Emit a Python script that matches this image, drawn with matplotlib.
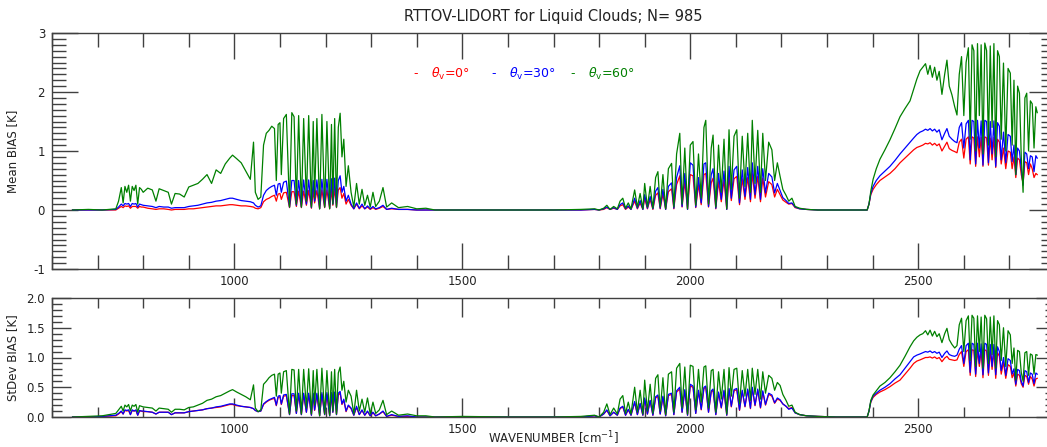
import numpy as np
import matplotlib
matplotlib.use("Agg")
import matplotlib.pyplot as plt
from matplotlib.ticker import MultipleLocator, FormatStrFormatter

# spectral grid [cm-1], one line per spectral band
wavenumber = [
    645, 680, 710, 740,
    746, 752, 756, 760, 764, 768, 772, 776, 780, 784, 788, 792, 796, 800,
    810, 820, 828, 835, 845, 855, 862, 870, 880, 890, 900,
    910, 920, 930, 940, 950, 960, 970, 980, 990, 996, 1005, 1015, 1025, 1035, 1042, 1046, 1052, 1058,
    1064, 1070, 1076, 1082, 1088, 1092, 1096, 1100, 1103, 1108, 1114, 1121, 1126, 1131, 1136, 1141, 1147, 1152, 1158, 1163,
    1169, 1173, 1176, 1181, 1187, 1192, 1198, 1203, 1209, 1213, 1216, 1220, 1224, 1228, 1232, 1236, 1240, 1245, 1250,
    1256, 1262, 1268, 1274, 1280, 1286, 1292, 1298, 1304, 1310, 1318, 1326, 1334, 1345, 1360, 1380, 1400, 1420, 1440,
    1500, 1600, 1700, 1760, 1790,
    1800, 1810, 1817, 1824, 1832, 1840, 1846, 1852, 1858, 1864, 1870, 1878, 1884, 1890, 1896, 1900, 1906, 1912, 1918, 1924,
    1929, 1934, 1940, 1946, 1952, 1959, 1964, 1970, 1977, 1982, 1988, 1994, 2000, 2006, 2012, 2018, 2024, 2030, 2034, 2040,
    2046, 2050, 2056, 2062, 2068, 2074, 2080, 2085, 2090, 2096, 2102, 2108, 2114, 2120, 2126, 2132, 2136, 2142, 2148, 2154,
    2159, 2165, 2172, 2179, 2185, 2191, 2197, 2203, 2210, 2216, 2223, 2230, 2240,
    2255, 2280, 2320, 2360, 2388,
    2392, 2396, 2401, 2408, 2416, 2427, 2438, 2449, 2460, 2471, 2482, 2490, 2497, 2504,
    2510, 2516, 2521, 2526, 2531, 2536, 2541, 2546, 2552, 2558, 2563, 2568, 2574, 2580, 2585, 2590, 2595, 2600, 2605, 2610,
    2614, 2618, 2622, 2626, 2630, 2634, 2638, 2642, 2646, 2650, 2654, 2658, 2662, 2666, 2670, 2674, 2678, 2682, 2687, 2692,
    2697, 2702, 2706, 2710, 2714, 2718, 2722, 2726, 2730, 2734, 2738, 2742, 2746, 2750, 2754, 2758, 2761,
]

# mean bias [K], theta_v = 0, 30, 60 deg
mean_0 = [
    0.00, 0.00, 0.00, 0.00,
    0.03, 0.06, 0.04, 0.07, 0.06, 0.07, 0.03, 0.06, 0.06, 0.06, 0.03, 0.06, 0.05, 0.05,
    0.03, 0.02, 0.01, 0.02, 0.02, 0.01, 0.00, 0.01, 0.01, 0.01, 0.02,
    0.02, 0.03, 0.04, 0.05, 0.06, 0.07, 0.07, 0.08, 0.09, 0.09, 0.08, 0.07, 0.07, 0.06, 0.05, 0.03, 0.02, 0.04,
    0.14, 0.18, 0.20, 0.23, 0.25, 0.15, 0.27, 0.28, 0.18, 0.29, 0.30, 0.04, 0.31, 0.31, 0.06, 0.32, 0.04, 0.32, 0.08, 0.33,
    0.03, 0.33, 0.12, 0.33, 0.02, 0.34, 0.04, 0.34, 0.02, 0.35, 0.08, 0.36, 0.04, 0.34, 0.38, 0.20, 0.28, 0.10, 0.18,
    0.08, 0.02, 0.10, 0.02, 0.07, 0.02, 0.05, 0.01, 0.04, 0.01, 0.03, 0.06, 0.01, 0.02, 0.01, 0.01, 0.00, 0.00, 0.00,
    0.00, 0.00, 0.00, 0.00, 0.01,
    0.00, 0.01, 0.04, 0.01, 0.03, 0.01, 0.07, 0.09, 0.01, 0.05, 0.01, 0.15, 0.02, 0.12, 0.01, 0.20, 0.02, 0.18, 0.01, 0.25,
    0.29, 0.02, 0.27, 0.01, 0.31, 0.36, 0.02, 0.43, 0.58, 0.05, 0.48, 0.01, 0.60, 0.58, 0.04, 0.43, 0.09, 0.60, 0.62, 0.05,
    0.46, 0.54, 0.02, 0.48, 0.14, 0.51, 0.01, 0.57, 0.16, 0.53, 0.57, 0.09, 0.53, 0.18, 0.55, 0.14, 0.62, 0.20, 0.57, 0.14,
    0.54, 0.22, 0.48, 0.43, 0.22, 0.35, 0.26, 0.17, 0.13, 0.10, 0.11, 0.04, 0.02,
    0.01, 0.00, 0.00, 0.00, 0.00,
    0.10, 0.26, 0.35, 0.43, 0.50, 0.56, 0.62, 0.70, 0.80, 0.88, 0.96, 1.02, 1.06, 1.08,
    1.10, 1.13, 1.12, 1.14, 1.10, 1.13, 1.09, 1.12, 1.00, 1.08, 1.15, 1.04, 1.01, 0.99, 0.97, 1.15, 1.20, 0.88, 1.20, 1.24,
    0.78, 1.24, 1.22, 0.74, 1.24, 0.90, 1.23, 0.74, 1.24, 1.22, 0.76, 1.22, 0.85, 1.23, 0.72, 1.20, 1.15, 0.78, 1.05, 0.70,
    1.00, 0.98, 0.70, 0.90, 0.55, 0.88, 0.85, 0.60, 0.45, 0.82, 0.80, 0.60, 0.78, 0.70, 0.55, 0.62, 0.60,
]
mean_30 = [
    0.00, 0.00, 0.00, 0.01,
    0.05, 0.10, 0.07, 0.11, 0.10, 0.11, 0.06, 0.11, 0.10, 0.11, 0.05, 0.10, 0.09, 0.08,
    0.07, 0.06, 0.04, 0.06, 0.05, 0.05, 0.03, 0.04, 0.04, 0.04, 0.06,
    0.07, 0.08, 0.10, 0.12, 0.13, 0.15, 0.16, 0.18, 0.20, 0.20, 0.18, 0.16, 0.15, 0.14, 0.12, 0.08, 0.05, 0.07,
    0.25, 0.33, 0.37, 0.40, 0.42, 0.25, 0.44, 0.45, 0.30, 0.47, 0.49, 0.05, 0.50, 0.50, 0.08, 0.50, 0.05, 0.51, 0.10, 0.51,
    0.04, 0.50, 0.15, 0.51, 0.02, 0.52, 0.05, 0.52, 0.03, 0.53, 0.10, 0.54, 0.05, 0.50, 0.58, 0.30, 0.40, 0.15, 0.25,
    0.10, 0.02, 0.12, 0.03, 0.10, 0.02, 0.07, 0.02, 0.06, 0.02, 0.04, 0.08, 0.01, 0.03, 0.01, 0.01, 0.00, 0.00, 0.00,
    0.00, 0.00, 0.00, 0.00, 0.01,
    0.00, 0.02, 0.05, 0.01, 0.04, 0.01, 0.09, 0.12, 0.02, 0.07, 0.01, 0.20, 0.03, 0.16, 0.01, 0.26, 0.03, 0.23, 0.02, 0.32,
    0.38, 0.03, 0.35, 0.01, 0.40, 0.46, 0.03, 0.55, 0.75, 0.06, 0.62, 0.01, 0.80, 0.76, 0.05, 0.55, 0.12, 0.78, 0.80, 0.06,
    0.60, 0.70, 0.03, 0.62, 0.18, 0.66, 0.01, 0.74, 0.20, 0.68, 0.74, 0.12, 0.68, 0.23, 0.72, 0.18, 0.80, 0.26, 0.74, 0.18,
    0.70, 0.29, 0.62, 0.56, 0.29, 0.45, 0.33, 0.21, 0.16, 0.11, 0.12, 0.05, 0.02,
    0.01, 0.00, 0.00, 0.00, 0.00,
    0.10, 0.28, 0.40, 0.50, 0.58, 0.66, 0.74, 0.84, 0.95, 1.05, 1.15, 1.22, 1.28, 1.32,
    1.34, 1.37, 1.35, 1.38, 1.34, 1.37, 1.32, 1.36, 1.19, 1.30, 1.38, 1.25, 1.20, 1.16, 1.14, 1.40, 1.48, 1.05, 1.46, 1.52,
    0.85, 1.52, 1.50, 0.78, 1.52, 1.05, 1.51, 0.76, 1.52, 1.50, 0.80, 1.50, 0.95, 1.51, 0.74, 1.48, 1.42, 0.85, 1.32, 0.80,
    1.28, 1.25, 0.82, 1.10, 0.60, 1.05, 1.00, 0.70, 0.42, 0.98, 0.95, 0.70, 0.92, 0.90, 0.65, 0.92, 0.88,
]
mean_60 = [
    0.00, 0.01, 0.00, 0.02,
    0.15, 0.38, 0.12, 0.40, 0.30, 0.42, 0.15, 0.40, 0.33, 0.42, 0.10, 0.38, 0.35, 0.30,
    0.37, 0.34, 0.15, 0.36, 0.33, 0.30, 0.10, 0.28, 0.27, 0.22, 0.39,
    0.42, 0.45, 0.52, 0.60, 0.45, 0.68, 0.62, 0.78, 0.88, 0.93, 0.87, 0.80, 0.66, 0.52, 1.15, 0.30, 0.18, 0.22,
    1.10, 1.30, 1.35, 1.42, 1.38, 0.50, 1.45, 1.48, 0.60, 1.55, 1.62, 0.05, 1.65, 1.58, 0.10, 1.60, 0.05, 1.55, 0.15, 1.60,
    0.05, 1.50, 0.20, 1.55, 0.02, 1.62, 0.05, 1.50, 0.02, 1.45, 0.10, 1.55, 0.05, 1.40, 1.64, 0.90, 1.20, 0.40, 0.75,
    0.30, 0.05, 0.45, 0.10, 0.35, 0.08, 0.25, 0.05, 0.30, 0.06, 0.15, 0.38, 0.05, 0.12, 0.04, 0.06, 0.02, 0.03, 0.00,
    0.00, 0.00, 0.00, 0.01, 0.02,
    0.00, 0.03, 0.08, 0.01, 0.06, 0.02, 0.15, 0.20, 0.03, 0.12, 0.02, 0.34, 0.05, 0.28, 0.02, 0.45, 0.05, 0.40, 0.03, 0.55,
    0.65, 0.05, 0.60, 0.02, 0.70, 0.79, 0.05, 0.95, 1.30, 0.10, 1.05, 0.02, 1.10, 1.16, 0.08, 0.95, 0.20, 1.40, 1.52, 0.10,
    1.05, 1.27, 0.05, 1.10, 0.30, 1.20, 0.02, 1.36, 0.35, 1.25, 1.36, 0.20, 1.25, 0.40, 1.30, 0.30, 1.52, 0.45, 1.35, 0.30,
    1.30, 0.50, 1.15, 1.02, 0.50, 0.80, 0.57, 0.35, 0.25, 0.15, 0.20, 0.06, 0.03,
    0.01, 0.00, 0.00, 0.00, 0.00,
    0.10, 0.32, 0.52, 0.70, 0.86, 1.02, 1.19, 1.38, 1.58, 1.72, 1.85, 2.05, 2.22, 2.36,
    2.42, 2.48, 2.30, 2.45, 2.25, 2.42, 2.20, 2.35, 1.96, 2.30, 2.54, 2.10, 1.95, 1.75, 1.61, 2.30, 2.60, 1.60, 2.50, 2.75,
    1.20, 2.80, 2.70, 1.00, 2.82, 1.60, 2.80, 0.95, 2.83, 2.70, 1.10, 2.78, 1.40, 2.82, 0.90, 2.70, 2.60, 1.20, 2.49, 1.00,
    2.40, 2.32, 1.10, 2.20, 0.60, 2.10, 1.98, 0.90, 0.30, 1.90, 1.98, 1.00, 1.85, 1.80, 1.05, 1.75, 1.65,
]

# standard deviation of the bias [K]
sdev_0 = [
    0.00, 0.00, 0.01, 0.02,
    0.05, 0.09, 0.05, 0.11, 0.10, 0.11, 0.04, 0.11, 0.10, 0.11, 0.03, 0.10, 0.10, 0.09,
    0.09, 0.08, 0.05, 0.08, 0.08, 0.08, 0.04, 0.07, 0.07, 0.07, 0.09,
    0.10, 0.11, 0.12, 0.14, 0.15, 0.16, 0.17, 0.19, 0.21, 0.21, 0.19, 0.18, 0.17, 0.16, 0.14, 0.11, 0.09, 0.10,
    0.21, 0.25, 0.28, 0.30, 0.31, 0.19, 0.33, 0.34, 0.21, 0.35, 0.36, 0.04, 0.36, 0.36, 0.06, 0.37, 0.04, 0.37, 0.08, 0.37,
    0.03, 0.37, 0.11, 0.37, 0.02, 0.38, 0.04, 0.38, 0.02, 0.38, 0.08, 0.39, 0.04, 0.37, 0.40, 0.21, 0.28, 0.09, 0.19,
    0.14, 0.03, 0.16, 0.04, 0.11, 0.03, 0.09, 0.02, 0.07, 0.02, 0.05, 0.09, 0.01, 0.03, 0.01, 0.01, 0.00, 0.00, 0.00,
    0.00, 0.00, 0.00, 0.00, 0.02,
    0.00, 0.05, 0.11, 0.02, 0.08, 0.03, 0.14, 0.17, 0.03, 0.12, 0.03, 0.24, 0.04, 0.22, 0.03, 0.30, 0.05, 0.27, 0.03, 0.32,
    0.35, 0.05, 0.33, 0.02, 0.36, 0.38, 0.04, 0.42, 0.47, 0.08, 0.44, 0.03, 0.52, 0.50, 0.06, 0.43, 0.12, 0.48, 0.50, 0.08,
    0.42, 0.45, 0.04, 0.40, 0.15, 0.43, 0.03, 0.46, 0.17, 0.44, 0.46, 0.11, 0.43, 0.17, 0.45, 0.14, 0.48, 0.19, 0.45, 0.15,
    0.42, 0.20, 0.38, 0.35, 0.23, 0.30, 0.28, 0.22, 0.18, 0.14, 0.16, 0.07, 0.04,
    0.02, 0.01, 0.00, 0.00, 0.00,
    0.10, 0.25, 0.33, 0.38, 0.42, 0.46, 0.51, 0.57, 0.62, 0.72, 0.82, 0.90, 0.94, 0.96,
    0.98, 1.00, 1.00, 1.01, 0.99, 1.01, 0.98, 1.00, 0.93, 0.99, 1.02, 0.97, 0.96, 0.95, 0.96, 1.05, 1.10, 0.85, 1.10, 1.13,
    0.70, 1.13, 1.12, 0.68, 1.13, 0.85, 1.12, 0.66, 1.13, 1.11, 0.70, 1.11, 0.80, 1.11, 0.65, 1.08, 1.02, 0.72, 0.92, 0.65,
    0.88, 0.85, 0.66, 0.74, 0.52, 0.72, 0.70, 0.56, 0.50, 0.70, 0.68, 0.55, 0.68, 0.64, 0.52, 0.64, 0.65,
]
sdev_30 = [
    0.00, 0.00, 0.01, 0.03,
    0.06, 0.10, 0.05, 0.12, 0.11, 0.12, 0.04, 0.12, 0.10, 0.12, 0.03, 0.11, 0.10, 0.10,
    0.09, 0.08, 0.05, 0.08, 0.08, 0.08, 0.04, 0.07, 0.07, 0.07, 0.09,
    0.10, 0.11, 0.12, 0.14, 0.15, 0.17, 0.18, 0.20, 0.22, 0.22, 0.20, 0.18, 0.17, 0.16, 0.14, 0.11, 0.09, 0.10,
    0.22, 0.26, 0.29, 0.31, 0.33, 0.20, 0.35, 0.36, 0.22, 0.37, 0.38, 0.04, 0.39, 0.39, 0.06, 0.40, 0.04, 0.40, 0.08, 0.40,
    0.03, 0.40, 0.12, 0.40, 0.02, 0.41, 0.04, 0.41, 0.02, 0.41, 0.08, 0.42, 0.04, 0.40, 0.43, 0.22, 0.30, 0.10, 0.20,
    0.15, 0.03, 0.18, 0.04, 0.12, 0.03, 0.10, 0.02, 0.08, 0.02, 0.05, 0.10, 0.01, 0.04, 0.01, 0.02, 0.00, 0.00, 0.00,
    0.00, 0.00, 0.00, 0.00, 0.02,
    0.00, 0.05, 0.12, 0.02, 0.08, 0.03, 0.15, 0.18, 0.03, 0.13, 0.03, 0.26, 0.04, 0.23, 0.03, 0.32, 0.05, 0.28, 0.03, 0.34,
    0.37, 0.05, 0.35, 0.02, 0.38, 0.40, 0.04, 0.44, 0.50, 0.08, 0.46, 0.03, 0.55, 0.52, 0.06, 0.45, 0.13, 0.50, 0.52, 0.08,
    0.44, 0.47, 0.04, 0.42, 0.16, 0.45, 0.03, 0.48, 0.18, 0.46, 0.48, 0.12, 0.45, 0.18, 0.47, 0.15, 0.50, 0.20, 0.47, 0.16,
    0.44, 0.21, 0.40, 0.37, 0.24, 0.32, 0.29, 0.22, 0.18, 0.13, 0.15, 0.07, 0.04,
    0.02, 0.01, 0.00, 0.00, 0.00,
    0.10, 0.26, 0.35, 0.40, 0.45, 0.50, 0.56, 0.64, 0.71, 0.82, 0.93, 1.01, 1.04, 1.06,
    1.08, 1.10, 1.09, 1.11, 1.08, 1.10, 1.07, 1.09, 1.00, 1.07, 1.11, 1.05, 1.03, 1.02, 1.04, 1.14, 1.20, 0.90, 1.20, 1.24,
    0.75, 1.24, 1.22, 0.72, 1.24, 0.90, 1.23, 0.71, 1.24, 1.22, 0.74, 1.22, 0.85, 1.22, 0.71, 1.18, 1.10, 0.78, 1.00, 0.70,
    0.98, 0.95, 0.72, 0.81, 0.55, 0.80, 0.78, 0.60, 0.52, 0.78, 0.76, 0.58, 0.74, 0.72, 0.56, 0.74, 0.72,
]
sdev_60 = [
    0.00, 0.01, 0.02, 0.06,
    0.12, 0.18, 0.10, 0.20, 0.17, 0.21, 0.10, 0.20, 0.18, 0.21, 0.08, 0.19, 0.18, 0.17,
    0.16, 0.15, 0.10, 0.15, 0.14, 0.13, 0.08, 0.13, 0.13, 0.12, 0.16,
    0.17, 0.20, 0.23, 0.28, 0.30, 0.34, 0.36, 0.40, 0.44, 0.46, 0.42, 0.38, 0.34, 0.29, 0.54, 0.15, 0.09, 0.12,
    0.55, 0.60, 0.66, 0.70, 0.72, 0.35, 0.72, 0.74, 0.40, 0.76, 0.78, 0.05, 0.80, 0.79, 0.10, 0.80, 0.05, 0.80, 0.15, 0.81,
    0.05, 0.78, 0.20, 0.80, 0.02, 0.82, 0.05, 0.78, 0.03, 0.76, 0.10, 0.80, 0.05, 0.74, 0.84, 0.45, 0.60, 0.25, 0.45,
    0.35, 0.05, 0.45, 0.10, 0.30, 0.08, 0.32, 0.05, 0.25, 0.06, 0.12, 0.28, 0.04, 0.10, 0.03, 0.05, 0.02, 0.02, 0.00,
    0.01, 0.00, 0.00, 0.01, 0.03,
    0.00, 0.08, 0.22, 0.04, 0.15, 0.05, 0.30, 0.36, 0.06, 0.25, 0.05, 0.50, 0.08, 0.45, 0.05, 0.62, 0.10, 0.55, 0.06, 0.65,
    0.71, 0.10, 0.66, 0.04, 0.72, 0.76, 0.08, 0.82, 0.90, 0.15, 0.84, 0.05, 0.87, 0.85, 0.12, 0.80, 0.25, 0.84, 0.86, 0.15,
    0.78, 0.80, 0.08, 0.76, 0.30, 0.80, 0.05, 0.83, 0.35, 0.80, 0.82, 0.22, 0.78, 0.35, 0.80, 0.28, 0.82, 0.38, 0.80, 0.30,
    0.76, 0.40, 0.70, 0.65, 0.45, 0.58, 0.53, 0.38, 0.28, 0.18, 0.20, 0.08, 0.04,
    0.02, 0.01, 0.00, 0.00, 0.00,
    0.10, 0.28, 0.37, 0.44, 0.52, 0.58, 0.66, 0.76, 0.87, 1.02, 1.18, 1.28, 1.34, 1.38,
    1.40, 1.45, 1.38, 1.46, 1.36, 1.44, 1.35, 1.40, 1.25, 1.40, 1.49, 1.30, 1.22, 1.16, 1.20, 1.55, 1.66, 1.10, 1.62, 1.70,
    0.95, 1.71, 1.66, 0.85, 1.70, 1.10, 1.68, 0.82, 1.71, 1.65, 0.90, 1.68, 1.05, 1.70, 0.82, 1.62, 1.55, 0.95, 1.50, 0.85,
    1.45, 1.38, 0.90, 1.16, 0.62, 1.12, 1.10, 0.75, 0.60, 1.08, 1.10, 0.70, 1.06, 1.04, 0.72, 1.05, 1.04,
]

n_profiles = 985
angles = ["0", "30", "60"]
colors = ["#ff0000", "#0000ff", "#008000"]

for arr in (mean_0, mean_30, mean_60, sdev_0, sdev_30, sdev_60):
    assert len(arr) == len(wavenumber), len(arr)

plt.rcParams["font.family"] = "DejaVu Sans"
plt.rcParams["axes.unicode_minus"] = False

W, H = 1047, 447
fig = plt.figure(figsize=(W / 100, H / 100), dpi=100)
ax1 = fig.add_axes([52 / W, 1 - 269 / H, (1055 - 52) / W, (269 - 33) / H])
ax2 = fig.add_axes([52 / W, 1 - 417 / H, (1055 - 52) / W, (417 - 298) / H])

wn = np.array(wavenumber)
for c, y in zip(colors, (mean_0, mean_30, mean_60)):
    ax1.plot(wn, y, color=c, lw=0.9)
for c, y in zip(colors, (sdev_0, sdev_30, sdev_60)):
    ax2.plot(wn, y, color=c, lw=0.9)

frame = "#404040"
for ax, big, small in ((ax1, 19, 10), (ax2, 14, 7)):
    ax.set_xlim(600, 2800)
    ax.xaxis.set_major_locator(MultipleLocator(500))
    ax.xaxis.set_minor_locator(MultipleLocator(100))
    ax.tick_params(which="both", direction="in", top=True, right=True,
                   colors=frame, labelcolor="#222222", labelsize=8.5, width=1.0)
    ax.tick_params(which="major", length=big)
    ax.tick_params(which="minor", length=small)
    ax.tick_params(axis="x", pad=4)
    ax.tick_params(axis="y", pad=5)
    for s in ax.spines.values():
        s.set_color(frame)
        s.set_linewidth(1.0)

ax1.set_ylim(-1, 3)
ax1.yaxis.set_major_locator(MultipleLocator(1))
ax1.yaxis.set_minor_locator(MultipleLocator(0.1))
ax1.set_ylabel("Mean BIAS [K]", fontsize=8.5, color="#222222", labelpad=10)

ax2.set_ylim(0, 2)
ax2.yaxis.set_major_locator(MultipleLocator(0.5))
ax2.yaxis.set_minor_locator(MultipleLocator(0.1))
ax2.yaxis.set_major_formatter(FormatStrFormatter("%.1f"))
ax2.set_ylabel("StDev BIAS [K]", fontsize=8.5, color="#222222", labelpad=5)

fig.text(553 / W, 1 - 438 / H, r"WAVENUMBER [cm$^{\mathsf{-1}}$]",
         ha="center", va="center", fontsize=8.5, color="#222222")
fig.text(553 / W, 1 - 17 / H, f"RTTOV-LIDORT for Liquid Clouds; N= {n_profiles}",
         ha="center", va="center", fontsize=10.5, color="#222222")

# legend entries written as coloured text
legend_x = [416, 494, 573]
for x, ang, c in zip(legend_x, angles, colors):
    fig.text(x / W, 1 - 74 / H, "-", ha="center", va="center", fontsize=9, color=c)
    fig.text((x + 15) / W, 1 - 74 / H, r"$\theta_{\mathsf{v}}$=" + ang + "°",
             ha="left", va="center", fontsize=9, color=c)

fig.savefig("out.png", dpi=100)
